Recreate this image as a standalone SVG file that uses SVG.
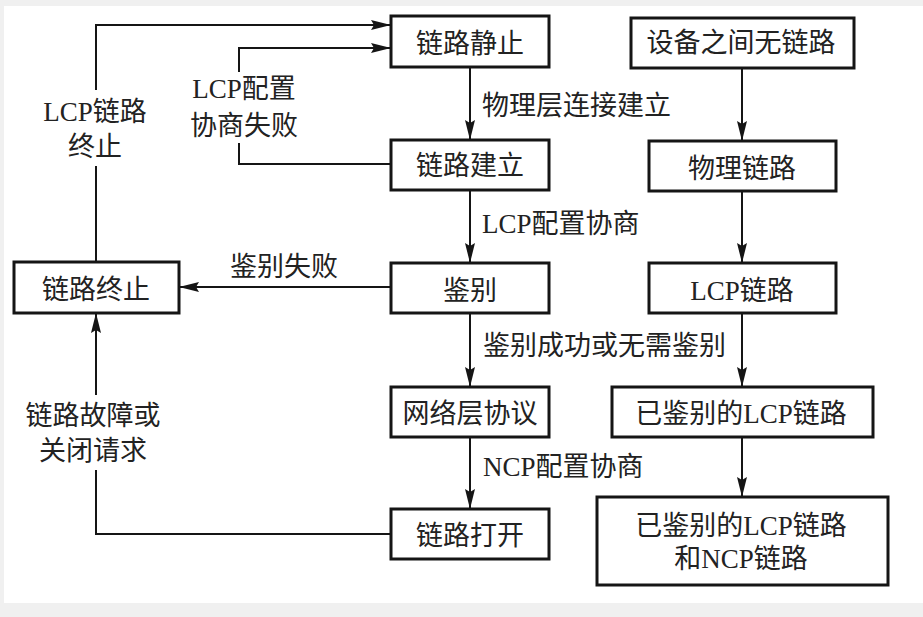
<svg xmlns="http://www.w3.org/2000/svg" width="923" height="617" viewBox="0 0 923 617">
<style>
.box{fill:#fff;stroke:#151515;stroke-width:3}
.ln{fill:none;stroke:#151515;stroke-width:2}
text{font-family:"Liberation Serif","Noto Sans CJK SC",serif;font-size:27px;fill:#222}
.c{text-anchor:middle}
</style>
<defs>
<marker id="ah" viewBox="0 0 20 10" markerUnits="userSpaceOnUse" markerWidth="20" markerHeight="10" refX="20" refY="5" orient="auto">
<path d="M0,0 L20,5 L0,10 L3,5 z" fill="#151515"/>
</marker>
</defs>
<rect x="0" y="0" width="923" height="617" fill="#f0f0f0"/>
<rect x="4" y="6" width="919" height="597" fill="#fff"/>
<g id="connectors">
<path class="ln" d="M96,262 V166"/>
<path class="ln" d="M96,90 V25 H391" marker-end="url(#ah)"/>
<path class="ln" d="M391,164 H239 V143"/>
<path class="ln" d="M239,72 V48 H391" marker-end="url(#ah)"/>
<path class="ln" d="M391,287 H179" marker-end="url(#ah)"/>
<path class="ln" d="M391,534 H96 V470"/>
<path class="ln" d="M96,395 V313" marker-end="url(#ah)"/>
<path class="ln" d="M470,67 V140" marker-end="url(#ah)"/>
<path class="ln" d="M470,190 V263" marker-end="url(#ah)"/>
<path class="ln" d="M470,313 V387" marker-end="url(#ah)"/>
<path class="ln" d="M470,437 V509" marker-end="url(#ah)"/>
<path class="ln" d="M742,68 V141" marker-end="url(#ah)"/>
<path class="ln" d="M742,191 V263" marker-end="url(#ah)"/>
<path class="ln" d="M742,313 V387" marker-end="url(#ah)"/>
<path class="ln" d="M742,437 V497" marker-end="url(#ah)"/>
<text x="482" y="115">物理层连接建立</text>
<text x="482" y="233">LCP配置协商</text>
<text x="483" y="355">鉴别成功或无需鉴别</text>
<text x="483" y="476">NCP配置协商</text>
<text x="230" y="276">鉴别失败</text>
<text class="c" x="95" y="121">LCP链路</text>
<text class="c" x="95" y="156">终止</text>
<text class="c" x="244" y="98">LCP配置</text>
<text class="c" x="244" y="135">协商失败</text>
<text class="c" x="93" y="425">链路故障或</text>
<text class="c" x="93" y="460">关闭请求</text>
</g>
<g id="n-jingzhi"><rect class="box" x="391" y="16" width="158" height="51"/><text class="c" x="470" y="53">链路静止</text></g>
<g id="n-wulianlu"><rect class="box" x="631" y="18" width="223" height="50"/><text class="c" x="741" y="52">设备之间无链路</text></g>
<g id="n-jianli"><rect class="box" x="391" y="140" width="158" height="50"/><text class="c" x="470" y="175">链路建立</text></g>
<g id="n-wuli"><rect class="box" x="649" y="141" width="187" height="50"/><text class="c" x="742" y="178">物理链路</text></g>
<g id="n-jianbie"><rect class="box" x="391" y="263" width="158" height="50"/><text class="c" x="470" y="300">鉴别</text></g>
<g id="n-lcp"><rect class="box" x="649" y="263" width="187" height="50"/><text class="c" x="742" y="300">LCP链路</text></g>
<g id="n-zhongzhi"><rect class="box" x="14" y="262" width="165" height="51"/><text class="c" x="96" y="299">链路终止</text></g>
<g id="n-wangluo"><rect class="box" x="391" y="387" width="158" height="50"/><text class="c" x="470" y="423">网络层协议</text></g>
<g id="n-yijianbie"><rect class="box" x="612" y="387" width="261" height="50"/><text class="c" x="741" y="423">已鉴别的LCP链路</text></g>
<g id="n-dakai"><rect class="box" x="391" y="509" width="158" height="50"/><text class="c" x="470" y="545">链路打开</text></g>
<g id="n-ncp"><rect class="box" x="597" y="497" width="291" height="88"/><text class="c" x="741" y="535">已鉴别的LCP链路</text><text class="c" x="741" y="568">和NCP链路</text></g>
</svg>
